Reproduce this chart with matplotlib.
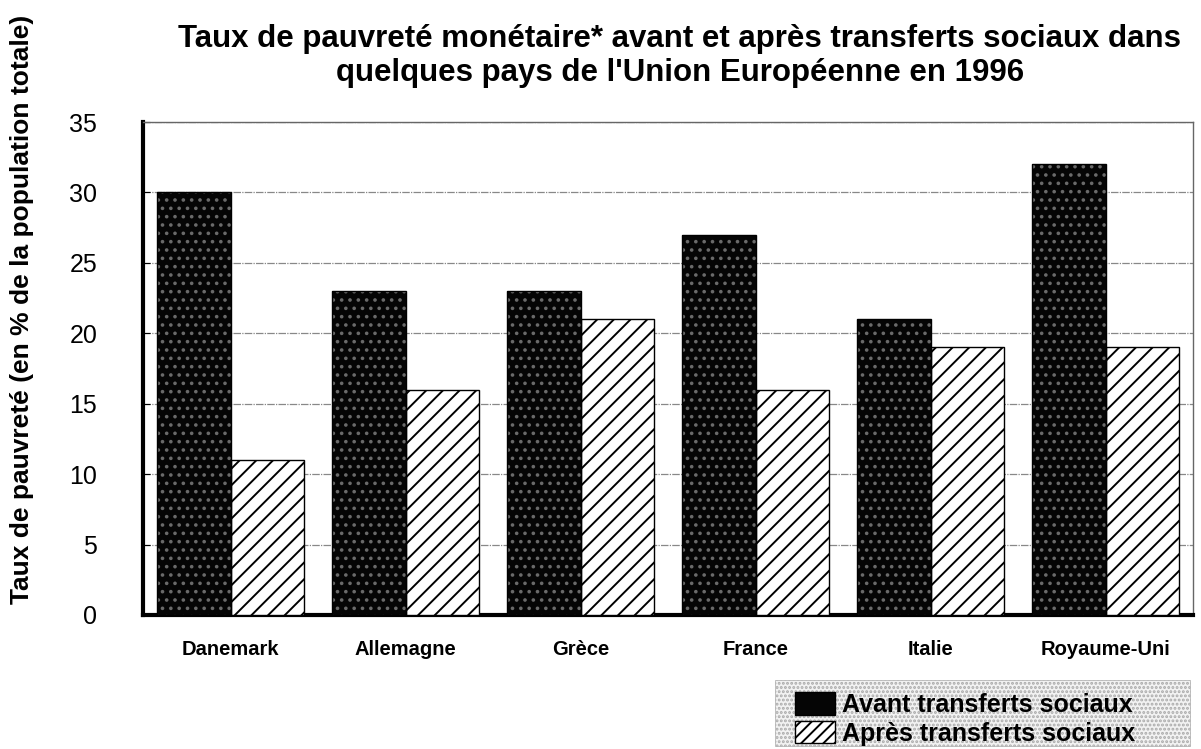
import matplotlib.pyplot as plt
import numpy as np
from matplotlib.patches import Patch, Rectangle

plt.rcParams['font.family'] = ['Liberation Sans', 'DejaVu Sans']
plt.rcParams['hatch.linewidth'] = 1.4

pays = ['Danemark', 'Allemagne', 'Grèce', 'France', 'Italie', 'Royaume-Uni']
avant = [30, 23, 23, 27, 21, 32]
apres = [11, 16, 21, 16, 19, 19]
yticks = [0, 5, 10, 15, 20, 25, 30, 35]

W, H = 1201, 749
fig = plt.figure(figsize=(W / 100, H / 100), dpi=100)
ax = fig.add_axes([143 / W, 1 - 615 / H, 1050 / W, 493 / H])

x = np.arange(len(pays))
w = 0.42

# dark bars: black face with a sparse dot hatch, then the outline
ax.bar(x - w / 2, avant, w, color='#050505', hatch='..', edgecolor='#6a6a6a', linewidth=0, zorder=3)
ax.bar(x - w / 2, avant, w, fill=False, edgecolor='black', linewidth=1, zorder=4)
ax.bar(x + w / 2, apres, w, color='white', hatch='//', edgecolor='black', linewidth=1, zorder=3)

ax.set_xlim(-0.5, len(pays) - 0.5)
ax.set_ylim(0, 35)
ax.set_yticks(yticks)
ax.set_yticklabels([str(t) for t in yticks], fontsize=18)
ax.set_xticks(x)
ax.set_xticklabels(pays, fontsize=14.5, fontweight='bold')
ax.tick_params(axis='y', direction='in', length=5, pad=33)
ax.tick_params(axis='x', length=0, pad=18)
ax.grid(axis='y', color='#888888', linestyle=(0, (6, 1, 1, 1)), linewidth=0.9, zorder=0)

for s in ['top', 'right']:
    ax.spines[s].set_color('#666666')
    ax.spines[s].set_linewidth(1)
for s in ['left', 'bottom']:
    ax.spines[s].set_linewidth(3)

ax.set_ylabel('Taux de pauvreté (en % de la population totale)', fontsize=19,
              fontweight='bold')
ax.yaxis.set_label_coords(-0.104, 0.62)

fig.text(0.566, 0.925, "Taux de pauvreté monétaire* avant et après transferts sociaux dans\n"
         "quelques pays de l'Union Européenne en 1996",
         ha='center', va='center', fontsize=22.5, fontweight='bold', linespacing=1.2)

# dotted legend background box
bg = Rectangle((775 / W, 1 - 746 / H), 415 / W, 66 / H, transform=fig.transFigure,
               facecolor='#f2f2f2', edgecolor='#aaaaaa', hatch='....', linewidth=0.5, zorder=0)
fig.patches.append(bg)

handles = [Patch(facecolor='#050505', edgecolor='black', label='Avant transferts sociaux'),
           Patch(facecolor='white', edgecolor='black', hatch='///', label='Après transferts sociaux')]
leg = fig.legend(handles=handles, loc='center left', bbox_to_anchor=(795 / W, 1 - 719 / H),
                 prop={'weight': 'bold', 'size': 18}, frameon=False,
                 borderpad=0, handlelength=1.6, handleheight=1.0, handletextpad=0.3,
                 labelspacing=0.15, borderaxespad=0)

fig.savefig('out.png', dpi=100)
